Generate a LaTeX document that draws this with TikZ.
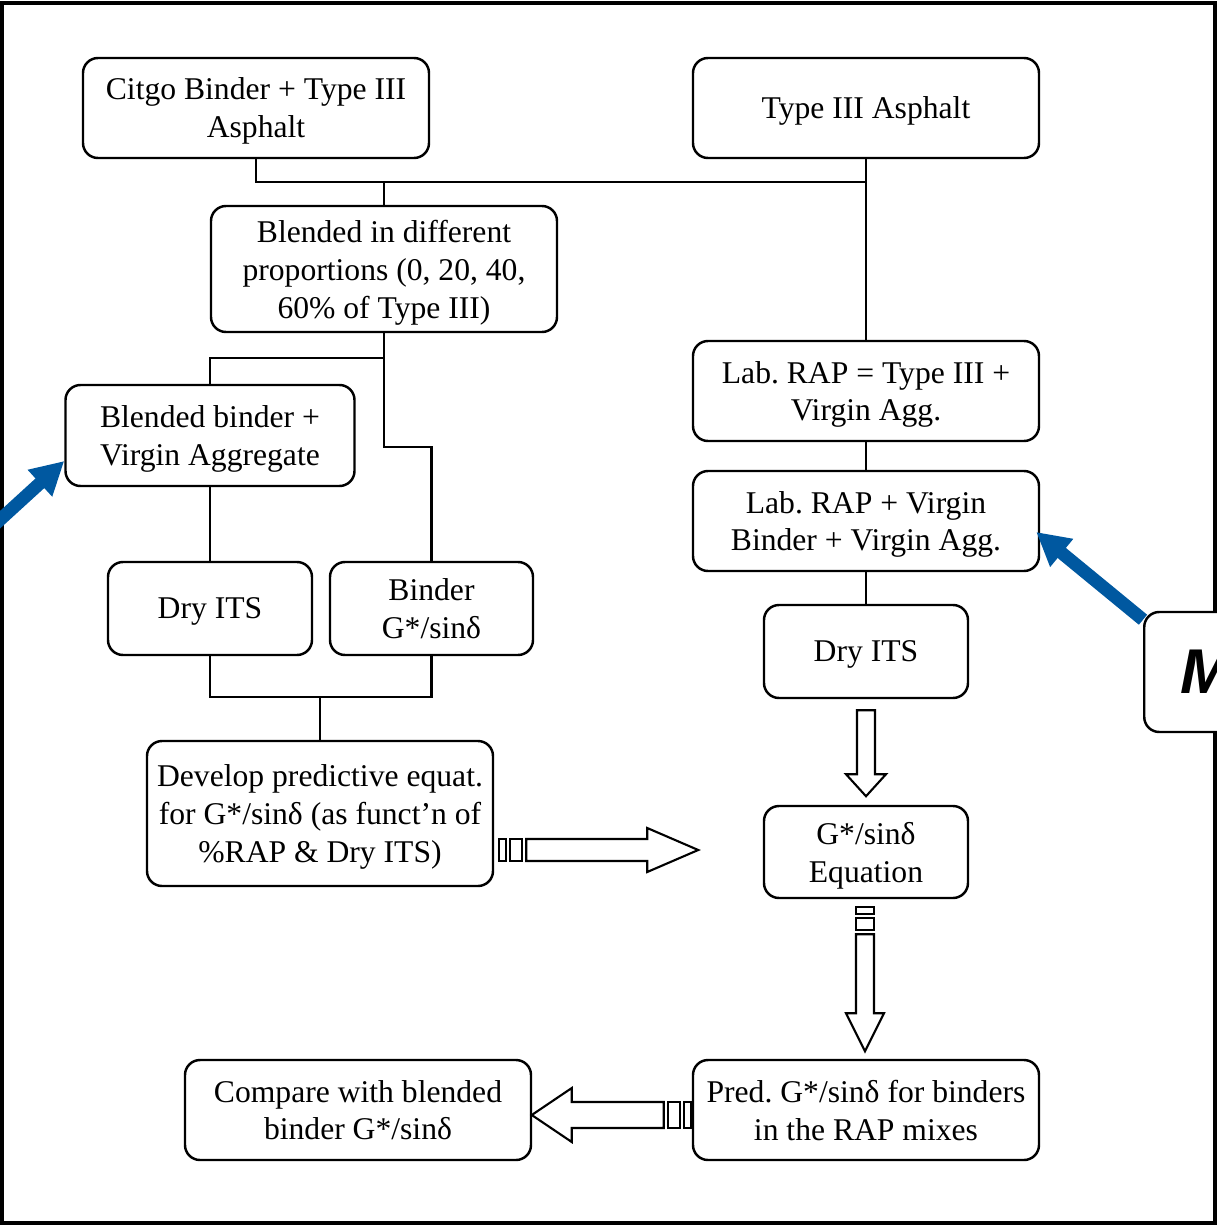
\documentclass[tikz,border=0pt]{standalone}
\usepackage{fontspec}
\setmainfont{Liberation Serif}
\newfontfamily\labelsans{Liberation Sans}
\usetikzlibrary{arrows.meta}
\definecolor{arrowblue}{RGB}{0,88,160}
\frenchspacing

\begin{document}
\begin{tikzpicture}[roundednodeA/.style={rectangle, rounded corners=0.3cm, draw=black, fill=white, line width=1.4pt, align=center, inner sep=0pt, text depth=0pt, font=\fontsize{18}{21.6}\selectfont},
flowline/.style={draw=black, line width=1.2pt},
hollowshape/.style={draw=black, fill=white, line width=1.2pt, line join=miter},
bluearrow/.style={draw=arrowblue, line width=0.26cm, -{Triangle[length=0.66cm, width=0.68cm]}},
pics/stripedarrow/.style n args={4}{code={
\draw[hollowshape] (0,-#2) rectangle (0.14,#2);
\draw[hollowshape] (0.22,-#2) rectangle (0.46,#2);
\draw[hollowshape] (0.54,-#2) -- ({#1-#4},-#2) -- ({#1-#4},-#3) -- (#1,0) -- ({#1-#4},#3) -- ({#1-#4},#2) -- (0.54,#2) -- cycle;
}},
pics/plainarrow/.style n args={4}{code={
\draw[hollowshape] (0,-#2) -- ({#1-#4},-#2) -- ({#1-#4},-#3) -- (#1,0) -- ({#1-#4},#3) -- ({#1-#4},#2) -- (0,#2) -- cycle;
}}]
\useasboundingbox (0,0) rectangle (24.34,-24.50);

\draw[line width=0.08cm] (0.04,-0.05) rectangle (24.30,-24.46);

\node[roundednodeA, minimum width=6.92cm, minimum height=2.00cm](citgo) at (5.12, -2.16){Citgo Binder + Type III\\Asphalt};
\node[roundednodeA, minimum width=6.92cm, minimum height=2.00cm](typeThree) at (17.32, -2.16){Type III Asphalt};
\node[roundednodeA, minimum width=6.92cm, minimum height=2.52cm](blended) at (7.68, -5.38){Blended in different\\proportions (0, 20, 40,\\60\% of Type III)};
\node[roundednodeA, minimum width=5.78cm, minimum height=2.02cm](blendedBinder) at (4.20, -8.71){Blended binder +\\Virgin Aggregate};
\node[roundednodeA, minimum width=6.92cm, minimum height=2.00cm](labRap) at (17.32, -7.82){Lab. RAP = Type III +\\Virgin Agg.};
\node[roundednodeA, minimum width=6.92cm, minimum height=2.00cm](labRapVirgin) at (17.32, -10.42){Lab. RAP + Virgin\\Binder + Virgin Agg.};
\node[roundednodeA, minimum width=4.08cm, minimum height=1.86cm](dryItsA) at (4.20, -12.17){Dry ITS};
\node[roundednodeA, minimum width=4.06cm, minimum height=1.86cm](binderG) at (8.63, -12.17){Binder\\G*/sinδ};
\node[roundednodeA, minimum width=4.08cm, minimum height=1.86cm](dryItsB) at (17.32, -13.03){Dry ITS};
\node[roundednodeA, minimum width=6.92cm, minimum height=2.90cm](develop) at (6.40, -16.27){Develop predictive equat.\\for G*/sinδ (as funct’n of\\\%RAP \& Dry ITS)};
\node[roundednodeA, minimum width=4.08cm, minimum height=1.84cm](gEquation) at (17.32, -17.04){G*/sinδ\\Equation};
\node[roundednodeA, minimum width=6.92cm, minimum height=2.00cm](predicted) at (17.32, -22.20){Pred. G*/sinδ for binders\\in the RAP mixes};
\node[roundednodeA, minimum width=6.92cm, minimum height=2.00cm](compare) at (7.16, -22.20){Compare with blended\\binder G*/sinδ};

\node[roundednodeA, anchor=west, minimum width=2.5cm, minimum height=2.4cm, font=\labelsans\bfseries\itshape\fontsize{36}{40}\selectfont](modelBox) at (22.86, -13.44){M};

\coordinate (topJoin) at (7.68, -3.64);
\coordinate (midSplit) at (7.68, -7.16);
\coordinate (midBend) at (7.68, -8.94);
\coordinate (lowJoin) at (6.40, -13.94);
\coordinate (offPage) at (-0.40, -10.76);

\draw[flowline] (citgo.south) |- (topJoin) -- (blended.north);
\draw[flowline] (topJoin) -| (typeThree.south);
\draw[flowline] (typeThree.south) -- (labRap.north);
\draw[flowline] (blended.south) -- (midSplit) -| (blendedBinder.north);
\draw[flowline] (midSplit) -- (midBend) -| (binderG.north);
\draw[flowline] (blendedBinder.south) -- (dryItsA.north);
\draw[flowline] (dryItsA.south) |- (lowJoin) -| (binderG.south);
\draw[flowline] (lowJoin) -- (develop.north);
\draw[flowline] (labRap.south) -- (labRapVirgin.north);
\draw[flowline] (labRapVirgin.south) -- (dryItsB.north);

\pic[rotate=-90] at ([yshift=-0.22cm]dryItsB.south) {plainarrow={1.72}{0.18}{0.40}{0.44}};
\pic at ([shift={(0.10,-0.73)}]develop.east) {stripedarrow={3.98}{0.22}{0.44}{1.02}};
\pic[rotate=-90] at ([shift={(-0.02,-0.16)}]gEquation.south) {stripedarrow={2.88}{0.18}{0.38}{0.76}};
\pic[rotate=180] at ([shift={(-0.02,-0.10)}]predicted.west) {stripedarrow={3.18}{0.26}{0.54}{0.80}};

\draw[bluearrow] (offPage) -- ([yshift=-0.51cm]blendedBinder.west);
\draw[bluearrow] (modelBox) -- ([shift={(-0.08,-0.22)}]labRapVirgin.east);

\end{tikzpicture}
\end{document}
